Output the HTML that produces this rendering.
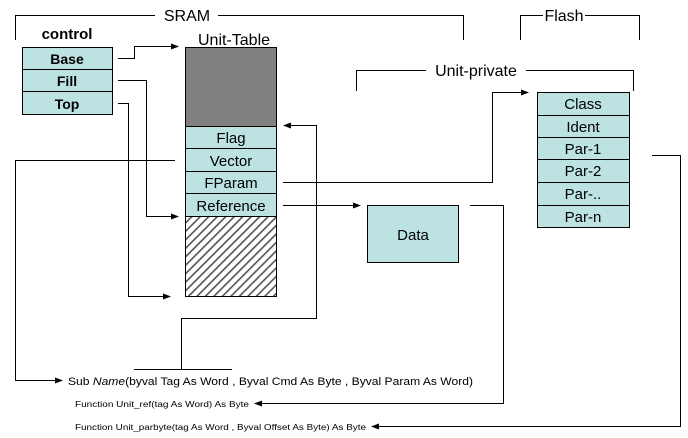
<!DOCTYPE html>
<html><head><meta charset="utf-8"><style>
body{margin:0;background:#fff;}
svg{display:block;font-family:"Liberation Sans",Arial,sans-serif;}
</style></head><body>
<svg width="688" height="438" viewBox="0 0 688 438" xmlns="http://www.w3.org/2000/svg">
<defs>
<pattern id="h" width="6" height="6" patternUnits="userSpaceOnUse" patternTransform="rotate(45)">
<rect width="6" height="6" fill="#fff"/><rect width="1.6" height="6" fill="#555"/></pattern>
<marker id="a" markerWidth="8" markerHeight="6" refX="7" refY="3" orient="auto" markerUnits="userSpaceOnUse"><path d="M0,0 L8,3 L0,6z" fill="#000"/></marker>
</defs>
<g stroke="#000" stroke-width="1" fill="none">
<path d="M15.5,40 V15.5 H155 M218,15.5 H463.5 V40"/>
<path d="M520.5,40 V15.5 H543 M585,15.5 H639.5 V40"/>
<path d="M356.5,91 V70.5 H426 M526,70.5 H633.5 V91"/>
<path d="M118,58.5 H134.5 V46.5 H178" marker-end="url(#a)"/>
<path d="M118,80.5 H146.5 V216.5 H178" marker-end="url(#a)"/>
<path d="M118,103.5 H128.5 V296.5 H170" marker-end="url(#a)"/>
<path d="M181.5,369 V318.5 H316.5 V125.5 H284" marker-end="url(#a)"/>
<path d="M175,160.5 H15.5 V380.5 H62" marker-end="url(#a)"/>
<path d="M283,182.5 H492.5 V92.5 H528" marker-end="url(#a)"/>
<path d="M283,205.5 H360" marker-end="url(#a)"/>
<path d="M470,205.5 H503.5 V403.5 H255" marker-end="url(#a)"/>
<path d="M652,155.5 H680.5 V426.5 H372" marker-end="url(#a)"/>
<path d="M134,369.5 H232"/>
</g>
<g stroke="#000" stroke-width="1">
<rect x="22.5" y="47.5" width="90" height="22" fill="#bde2e2"/>
<rect x="22.5" y="69.5" width="90" height="22" fill="#bde2e2"/>
<rect x="22.5" y="91.5" width="90" height="23" fill="#bde2e2"/>
<rect x="185.5" y="47.5" width="91" height="79" fill="#808080"/>
<rect x="185.5" y="126.5" width="91" height="22" fill="#bde2e2"/>
<rect x="185.5" y="148.5" width="91" height="23" fill="#bde2e2"/>
<rect x="185.5" y="171.5" width="91" height="22" fill="#bde2e2"/>
<rect x="185.5" y="193.5" width="91" height="23" fill="#bde2e2"/>
<rect x="185.5" y="216.5" width="91" height="80" fill="url(#h)"/>
<rect x="367.5" y="205.5" width="91" height="57" fill="#bde2e2"/>
<rect x="537.5" y="92.5" width="92" height="23" fill="#bde2e2"/>
<rect x="537.5" y="115.5" width="92" height="22" fill="#bde2e2"/>
<rect x="537.5" y="137.5" width="92" height="22" fill="#bde2e2"/>
<rect x="537.5" y="159.5" width="92" height="23" fill="#bde2e2"/>
<rect x="537.5" y="182.5" width="92" height="23" fill="#bde2e2"/>
<rect x="537.5" y="205.5" width="92" height="22" fill="#bde2e2"/>
</g>
<g font-size="16" text-anchor="middle" fill="#000">
<text x="187" y="21">SRAM</text>
<text x="564" y="21">Flash</text>
<text x="476" y="76">Unit-private</text>
<text x="67" y="39" font-weight="bold" font-size="15">control</text>
<text x="234" y="45">Unit-Table</text>
<g font-weight="bold" font-size="14">
<text x="67" y="64">Base</text>
<text x="67" y="86">Fill</text>
<text x="67" y="109">Top</text>
</g>
<g font-size="15">
<text x="231" y="143">Flag</text>
<text x="231" y="166">Vector</text>
<text x="231" y="188">FParam</text>
<text x="231" y="211">Reference</text>
<text x="413" y="240">Data</text>
<text x="583" y="109">Class</text>
<text x="583" y="132">Ident</text>
<text x="583" y="154">Par-1</text>
<text x="583" y="176">Par-2</text>
<text x="583" y="199">Par-..</text>
<text x="583" y="222">Par-n</text>
</g>
</g>
<g fill="#000" text-anchor="start">
<text x="68" y="385" font-size="11" textLength="405" lengthAdjust="spacingAndGlyphs">Sub <tspan font-style="italic">Name</tspan>(byval Tag As Word , Byval Cmd As Byte , Byval Param As Word)</text>
<text x="75" y="407" font-size="8" textLength="174" lengthAdjust="spacingAndGlyphs">Function Unit_ref(tag As Word) As Byte</text>
<text x="75" y="430" font-size="8" textLength="291" lengthAdjust="spacingAndGlyphs">Function Unit_parbyte(tag As Word , Byval Offset As Byte) As Byte</text>
</g>
</svg>
</body></html>
